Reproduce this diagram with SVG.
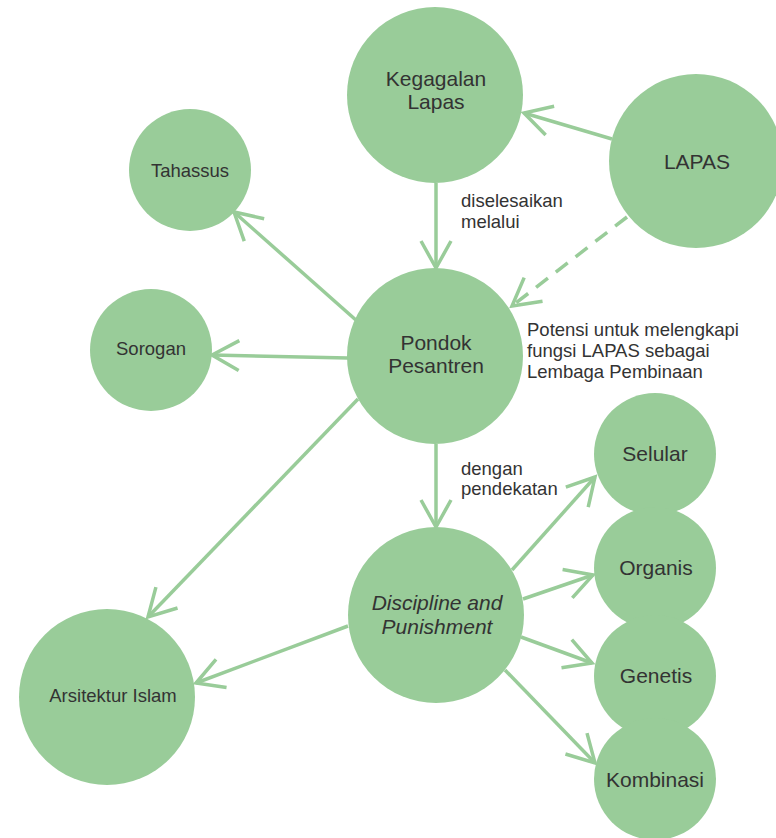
<svg xmlns="http://www.w3.org/2000/svg" width="776" height="838" viewBox="0 0 776 838">
  <style>
    .node { fill: #99cc99; }
    .lbl { font-family: "Liberation Sans", Arial, sans-serif; fill: #333333; text-anchor: middle; }
    .big { font-size: 21px; }
    .small { font-size: 18.5px; }
    .note { font-family: "Liberation Sans", Arial, sans-serif; fill: #333333; font-size: 18.5px; }
    .edge { stroke: #99cc99; stroke-width: 3.5; fill: none; marker-end: url(#vhead); }
    .dashed { stroke-dasharray: 15 10; }
  </style>
  <defs>
    <marker id="vhead" markerUnits="userSpaceOnUse" viewBox="-36 -20 40 40" markerWidth="40" markerHeight="40" refX="0" refY="0" orient="auto" overflow="visible">
      <path d="M-27,-15 L0,0 L-27,15" fill="none" stroke="#99cc99" stroke-width="3.5"/>
    </marker>
  </defs>
  <rect width="776" height="838" fill="#ffffff"/>

  <g id="connectors">
    <line class="edge" x1="612" y1="139" x2="524" y2="113"/>
    <line class="edge" x1="436" y1="183" x2="436" y2="268"/>
    <line class="edge dashed" x1="627" y1="217" x2="512" y2="306"/>
    <line class="edge" x1="357" y1="321" x2="234" y2="212"/>
    <line class="edge" x1="348" y1="358" x2="212" y2="355"/>
    <line class="edge" x1="358" y1="399" x2="148" y2="617"/>
    <line class="edge" x1="436" y1="444" x2="436" y2="527"/>
    <line class="edge" x1="348" y1="626" x2="196" y2="683"/>
    <line class="edge" x1="512" y1="570" x2="595" y2="477"/>
    <line class="edge" x1="523" y1="599" x2="593" y2="575"/>
    <line class="edge" x1="521" y1="637" x2="592" y2="663"/>
    <line class="edge" x1="505" y1="670" x2="595" y2="763"/>
  </g>

  <g id="kegagalan-lapas">
    <circle class="node" cx="435" cy="95" r="88"/>
    <text class="lbl big" x="436" y="86">Kegagalan</text>
    <text class="lbl big" x="436" y="109">Lapas</text>
  </g>
  <g id="lapas">
    <circle class="node" cx="696" cy="161" r="87"/>
    <text class="lbl big" x="697" y="169">LAPAS</text>
  </g>
  <g id="tahassus">
    <circle class="node" cx="190" cy="170" r="61"/>
    <text class="lbl small" x="190" y="177">Tahassus</text>
  </g>
  <g id="sorogan">
    <circle class="node" cx="151" cy="350" r="61"/>
    <text class="lbl small" x="151" y="355">Sorogan</text>
  </g>
  <g id="pondok-pesantren">
    <circle class="node" cx="435" cy="356" r="88"/>
    <text class="lbl big" x="436" y="350">Pondok</text>
    <text class="lbl big" x="436" y="373">Pesantren</text>
  </g>
  <g id="discipline-punishment">
    <circle class="node" cx="436" cy="615" r="88"/>
    <text class="lbl big" x="437" y="610" font-style="italic">Discipline and</text>
    <text class="lbl big" x="437" y="634" font-style="italic">Punishment</text>
  </g>
  <g id="arsitektur-islam">
    <circle class="node" cx="107" cy="697" r="88"/>
    <text class="lbl small" x="113" y="702">Arsitektur Islam</text>
  </g>
  <g id="selular">
    <circle class="node" cx="655" cy="454" r="61"/>
    <text class="lbl big" x="655" y="461">Selular</text>
  </g>
  <g id="organis">
    <circle class="node" cx="655" cy="568" r="61"/>
    <text class="lbl big" x="656" y="575">Organis</text>
  </g>
  <g id="genetis">
    <circle class="node" cx="655" cy="676" r="61"/>
    <text class="lbl big" x="656" y="683">Genetis</text>
  </g>
  <g id="kombinasi">
    <circle class="node" cx="655" cy="779" r="61"/>
    <text class="lbl big" x="655" y="787">Kombinasi</text>
  </g>

  <g id="edge-labels">
    <text class="note" x="461" y="207">diselesaikan</text>
    <text class="note" x="461" y="228">melalui</text>
    <text class="note" x="527" y="336">Potensi untuk melengkapi</text>
    <text class="note" x="527" y="357">fungsi LAPAS sebagai</text>
    <text class="note" x="527" y="378">Lembaga Pembinaan</text>
    <text class="note" x="461" y="475">dengan</text>
    <text class="note" x="461" y="495">pendekatan</text>
  </g>
</svg>
